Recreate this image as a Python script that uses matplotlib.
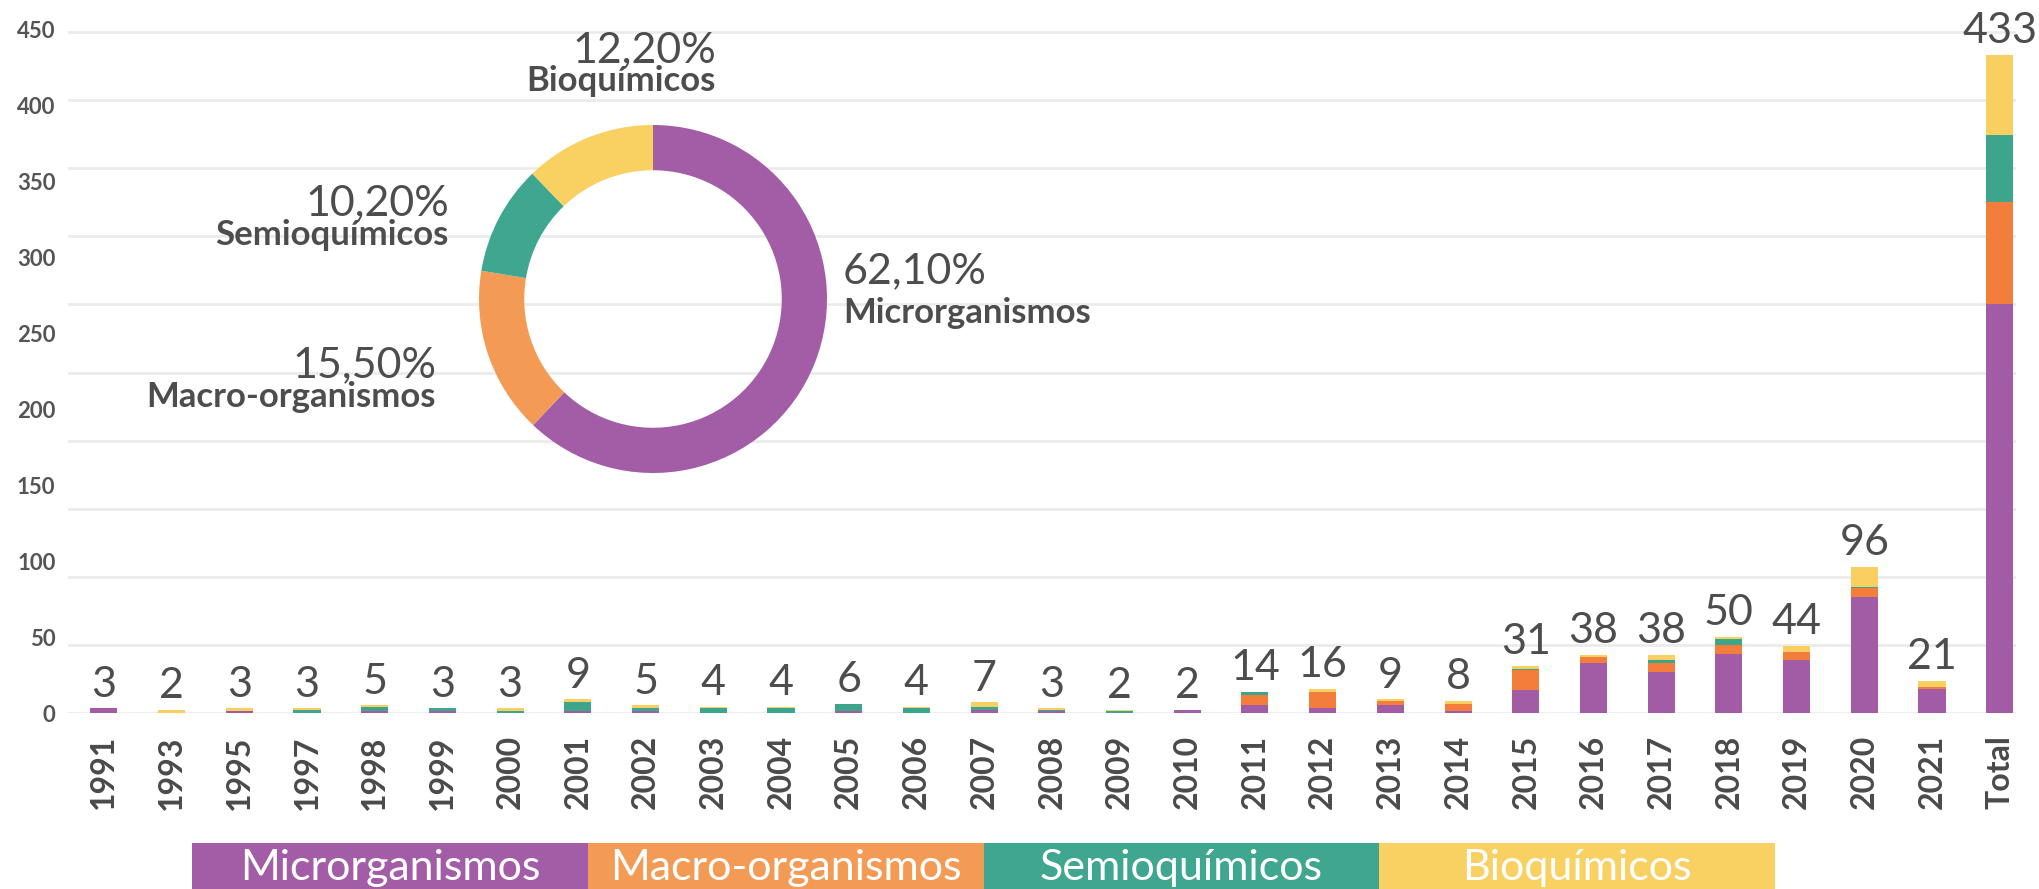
import numpy as np
import matplotlib
matplotlib.use('Agg')
import matplotlib.pyplot as plt

# Dados por ano (leitura aproximada do gráfico)
anos = ['1991', '1993', '1995', '1997', '1998', '1999', '2000', '2001', '2002',
        '2003', '2004', '2005', '2006', '2007', '2008', '2009', '2010', '2011',
        '2012', '2013', '2014', '2015', '2016', '2017', '2018', '2019', '2020',
        '2021', 'Total']
microrganismos = [3, 0, 1, 0, 1, 1, 0, 1, 1, 0, 0, 1, 0, 2, 1, 0, 2, 5,
                  3, 5, 1, 15, 33, 27, 39, 35, 76, 16, 269]
macro_organismos = [0, 0, 0, 0, 0, 0, 0, 0, 0, 0, 0, 0, 0, 0, 0, 0, 0, 7,
                    11, 3, 5, 13, 4, 6, 6, 5, 6, 1, 67]
semioquimicos = [0, 0, 0, 2, 3, 2, 1, 6, 2, 3, 3, 5, 3, 2, 1, 1, 0, 2,
                 0, 0, 0, 1, 0, 2, 4, 0, 1, 0, 44]
bioquimicos = [0, 2, 2, 1, 1, 0, 2, 2, 2, 1, 1, 0, 1, 3, 1, 1, 0, 0,
               2, 1, 2, 2, 1, 3, 1, 4, 13, 4, 53]
# pequeno traço azul abaixo de zero em 2014
outros = [0] * 20 + [-2] + [0] * 8

categorias = ['Microrganismos', 'Macro-organismos', 'Semioquímicos', 'Bioquímicos']
percentuais = [62.1, 15.5, 10.2, 12.2]
rotulos_pct = ['62,10%', '15,50%', '10,20%', '12,20%']

cores_barras = ['#A25BA5', '#F37E3B', '#3EA58D', '#F8CF60']
cores_rosca = ['#A35DA6', '#F39B55', '#3FA68F', '#F8D162']
cor_texto = '#4D4D4D'

plt.rcParams['font.family'] = ['Lato', 'DejaVu Sans']

W, H = 2039, 889
fig = plt.figure(figsize=(W / 100, H / 100), dpi=100)

# eixo principal
y0_px, ymax = 713, 465
px_por_un = 1.52
top_px = y0_px - ymax * px_por_un
ax = fig.add_axes([68 / W, 1 - y0_px / H, (2016 - 68) / W, (y0_px - top_px) / H])

x = np.arange(len(anos))
largura = 0.4
base = np.zeros(len(anos))
for serie, cor in zip([microrganismos, macro_organismos, semioquimicos, bioquimicos], cores_barras):
    ax.bar(x, serie, largura, bottom=base, color=cor, zorder=2)
    base += np.array(serie)
ax.bar(x + 0.1, outros, largura, color='#6B8FD4', zorder=2)

for xi, tot in zip(x, base):
    ax.annotate(f'{int(tot)}', (xi, tot), xytext=(0, 8.5), textcoords='offset points',
                ha='center', va='baseline', fontsize=31, color=cor_texto)

# linhas de grade (não coincidem com os rótulos no original)
for k in range(11):
    ax.axhline(k * 44.8, color='#EBEBEB', lw=2, zorder=0)

ax.set_xlim(-0.53, 28.24)
ax.set_ylim(0, ymax)
ax.set_yticks(range(0, 451, 50))
ax.set_xticks(x)
ax.set_xticklabels(anos, rotation=90, fontsize=23, fontweight='bold', color='#4A4A4A')
ax.tick_params(axis='x', length=0, pad=16)
ax.tick_params(axis='y', length=0, pad=9, labelsize=16, labelcolor='#555555')
for lbl in ax.get_yticklabels():
    lbl.set_fontweight('bold')
for s in ax.spines.values():
    s.set_visible(False)

# rosca
cx, cy, r = 653, 299, 174
axp = fig.add_axes([(cx - r) / W, 1 - (cy + r) / H, 2 * r / W, 2 * r / H])
axp.pie(percentuais, colors=cores_rosca, startangle=90, counterclock=False,
        radius=1, wedgeprops=dict(width=0.26, edgecolor='none'))
axp.set_xlim(-1, 1)
axp.set_ylim(-1, 1)
axp.set_aspect('equal')
axp.axis('off')

# rótulos da rosca (x, y do percentual em pixels, distância até o nome, alinhamento)
pos_rotulos = [(843, 283, 40, 'left'), (436, 377, 30, 'right'),
               (449, 215, 30, 'right'), (716, 62, 29, 'right')]
for (px, py, dy, ha), nome, pct in zip(pos_rotulos, categorias, rotulos_pct):
    fig.text(px / W, 1 - py / H, pct, ha=ha, va='baseline', fontsize=31, color=cor_texto)
    fig.text(px / W, 1 - (py + dy) / H, nome, ha=ha, va='baseline', fontsize=25,
             fontweight='bold', color=cor_texto)

# legenda inferior
axl = fig.add_axes([192 / W, 0, (1775 - 192) / W, 46 / H])
for i, (nome, cor) in enumerate(zip(categorias, cores_rosca)):
    axl.bar(i, 1, 1, align='edge', color=cor)
    axl.text(i + 0.5, 0.45, nome, ha='center', va='center', fontsize=31, color='white')
axl.set_xlim(0, 4)
axl.set_ylim(0, 1)
axl.axis('off')

fig.savefig('out.png', dpi=100)
